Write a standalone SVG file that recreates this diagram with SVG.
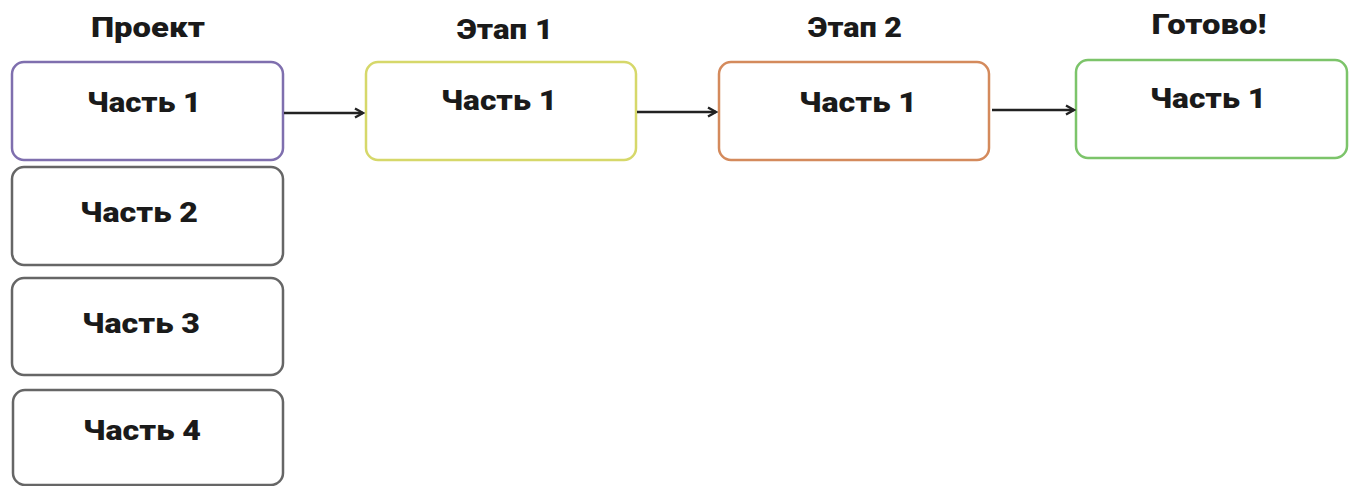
<svg xmlns="http://www.w3.org/2000/svg" width="1357" height="486" viewBox="0 0 1357 486">
<style>
.box{fill:#fff;stroke-width:2.5}
.t,.h{font-family:Roboto,"Liberation Sans",sans-serif;font-weight:900;font-size:27px;fill:#1a1a1a;text-anchor:middle}
.c{stroke:#222;stroke-width:2.4;fill:none}
</style>
<defs>
<marker id="arr" viewBox="0 0 12 12" refX="10" refY="6" markerWidth="12" markerHeight="12" markerUnits="userSpaceOnUse" orient="auto">
<path d="M2,1.5 L10,6 L2,10.5" fill="none" stroke="#222" stroke-width="2.4"/>
</marker>
</defs>
<rect width="1357" height="486" fill="#fff"/>
<text class="h" x="148" y="37" textLength="114" lengthAdjust="spacingAndGlyphs">Проект</text>
<text class="h" x="505" y="39" textLength="96" lengthAdjust="spacingAndGlyphs">Этап 1</text>
<text class="h" x="855" y="37" textLength="94" lengthAdjust="spacingAndGlyphs">Этап 2</text>
<text class="h" x="1209" y="34" textLength="115" lengthAdjust="spacingAndGlyphs">Готово!</text>
<g id="p1"><rect class="box" x="12" y="62" width="271" height="98" rx="12" stroke="#7f6fae"/><text class="t" x="144" y="112" textLength="114" lengthAdjust="spacingAndGlyphs">Часть 1</text></g>
<g id="p2"><rect class="box" x="12" y="167" width="271" height="98" rx="12" stroke="#666"/><text class="t" x="139" y="222" textLength="118" lengthAdjust="spacingAndGlyphs">Часть 2</text></g>
<g id="p3"><rect class="box" x="12" y="278" width="271" height="97" rx="12" stroke="#666"/><text class="t" x="141" y="333" textLength="118" lengthAdjust="spacingAndGlyphs">Часть 3</text></g>
<g id="p4"><rect class="box" x="13" y="390" width="270" height="95" rx="12" stroke="#666"/><text class="t" x="142" y="440" textLength="118" lengthAdjust="spacingAndGlyphs">Часть 4</text></g>
<g id="s1"><rect class="box" x="366" y="62" width="270" height="98" rx="12" stroke="#d6d86a"/><text class="t" x="499" y="110" textLength="116" lengthAdjust="spacingAndGlyphs">Часть 1</text></g>
<g id="s2"><rect class="box" x="719" y="62" width="270" height="98" rx="12" stroke="#d48a5c"/><text class="t" x="858" y="112" textLength="118" lengthAdjust="spacingAndGlyphs">Часть 1</text></g>
<g id="done"><rect class="box" x="1076" y="60" width="271" height="98" rx="12" stroke="#7cc46a"/><text class="t" x="1208" y="108" textLength="116" lengthAdjust="spacingAndGlyphs">Часть 1</text></g>
<g id="connectors">
<line class="c" x1="284" y1="113" x2="363" y2="113" marker-end="url(#arr)"/>
<line class="c" x1="637" y1="112" x2="716" y2="112" marker-end="url(#arr)"/>
<line class="c" x1="992" y1="110" x2="1074" y2="110" marker-end="url(#arr)"/>
</g>
</svg>
